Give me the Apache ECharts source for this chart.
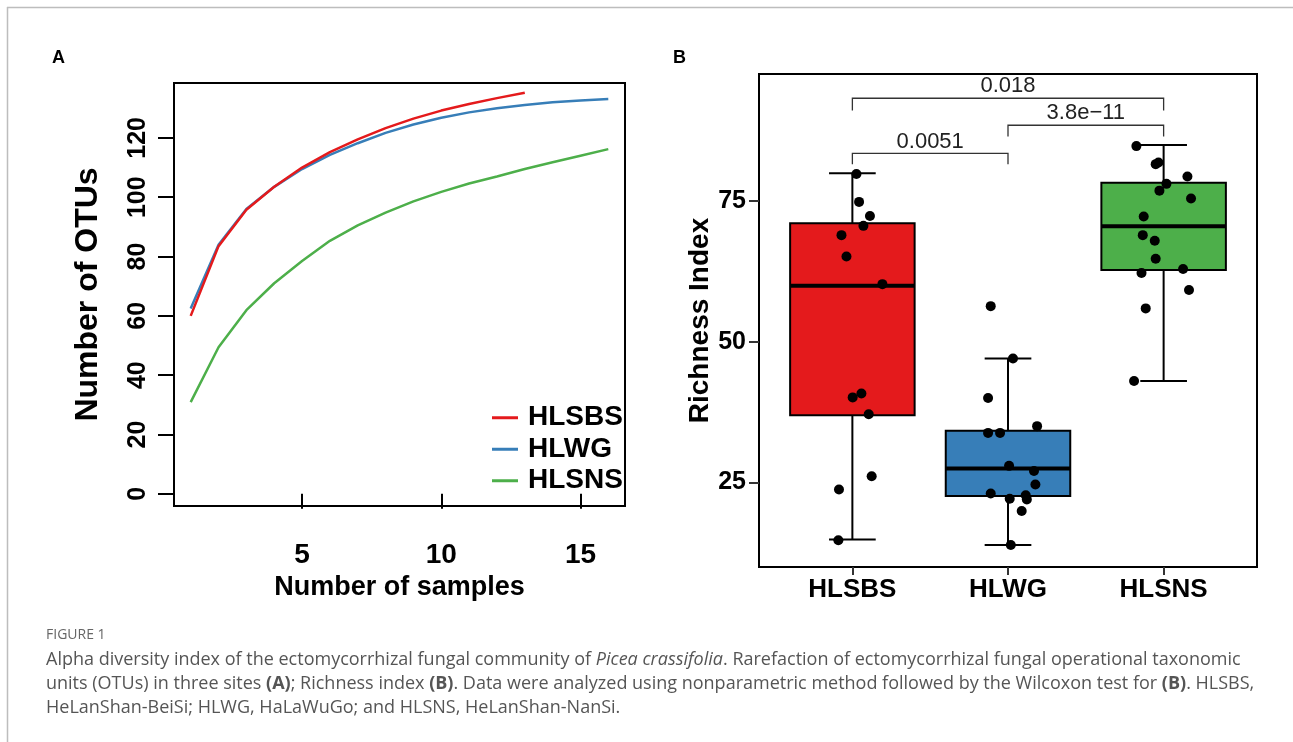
<!DOCTYPE html>
<html>
<head>
<meta charset="utf-8">
<script src="https://cdn.jsdelivr.net/npm/echarts@6/dist/echarts.min.js"></script>
<style>
html,body{margin:0;padding:0;background:#fff;}
#chart{width:1293px;height:742px;}
</style>
</head>
<body>
<div id="chart"></div>
<script>
// ---------- Panel A: rarefaction curves ----------
const siteNames = ['HLSBS', 'HLWG', 'HLSNS'];
const sampleCounts = [1, 2, 3, 4, 5, 6, 7, 8, 9, 10, 11, 12, 13, 14, 15, 16];
const otusHLSBS = [60, 83.5, 95.8, 103.5, 110, 115.2, 119.5, 123.3, 126.5, 129.2, 131.4, 133.4, 135.2];
const otusHLWG  = [62.5, 84, 96, 103.5, 109.5, 114.3, 118.2, 121.7, 124.5, 126.8, 128.6, 130, 131.1, 132, 132.6, 133.1];
const otusHLSNS = [30.9, 49.4, 61.9, 71, 78.5, 85.3, 90.5, 94.8, 98.6, 101.8, 104.6, 107, 109.5, 111.8, 114, 116.2];
const xTicksA = [5, 10, 15];
const yTicksA = [0, 20, 40, 60, 80, 100, 120];

// ---------- Panel B: richness index ----------
const groupPos = [1, 2, 3];
// [lower whisker, Q1, median, Q3, upper whisker]
const boxHLSBS = [14.9, 36.95, 59.9, 71.0, 79.9];
const boxHLWG  = [13.9, 22.6, 27.5, 34.2, 47.0];
const boxHLSNS = [43.0, 62.7, 70.5, 78.2, 84.9];
// jittered points [x, richness]
const ptsHLSBS = [[1.026,79.75],[1.043,74.8],[1.113,72.3],[1.071,70.55],[0.930,68.9],[0.962,65.1],[1.193,60.2],[1.002,40.1],[1.058,40.8],[1.105,37.1],[1.124,26.1],[0.914,23.75],[0.910,14.75]];
const ptsHLWG  = [[1.889,56.3],[2.032,47.0],[1.872,40.0],[1.872,33.8],[1.949,33.8],[2.187,35.0],[2.007,27.95],[2.167,27.05],[2.176,24.65],[1.889,23.05],[2.011,22.1],[2.114,22.75],[2.121,22.0],[2.088,19.95],[2.018,13.9]];
const ptsHLSNS = [[2.825,84.7],[2.949,81.5],[2.967,81.8],[3.153,79.3],[3.018,78.0],[2.973,76.8],[3.176,75.4],[2.872,72.2],[2.866,68.9],[2.943,67.9],[2.949,64.7],[3.125,62.9],[2.858,62.2],[3.163,59.15],[2.885,55.9],[2.810,43.0]];
const yTicksB = [25, 50, 75];
// comparisons: [from group, to group, bracket level, tick end level]
const compFrom = [1, 2, 1];
const compTo   = [2, 3, 3];
const compLevel = [83.4, 88.4, 93.2];
const compTickEnd = [81.5, 86.4, 91.0];
const compLabels = ['0.0051', '3.8e\u221211', '0.018'];

// ---------- styles ----------
const setColors = ['#E41A1C', '#377EB8', '#4DAF4A'];
const SANS = "'Liberation Sans', Arial, sans-serif";
const CAP = "'Open Sans', 'Noto Sans', sans-serif";

const chart = echarts.init(document.getElementById('chart'), null, {renderer: 'canvas'});

const boxData = [boxHLSBS, boxHLWG, boxHLSNS].map((b, i) => [groupPos[i]].concat(b));
const compData = compFrom.map((f, i) => [f, compTo[i], compLevel[i], compTickEnd[i]]);

function renderBox(params, api) {
  const x = api.value(0);
  const lo = api.coord([x, api.value(1)]);
  const q1 = api.coord([x, api.value(2)]);
  const md = api.coord([x, api.value(3)]);
  const q3 = api.coord([x, api.value(4)]);
  const hi = api.coord([x, api.value(5)]);
  const bw = api.size([0.8, 0])[0];
  const cw = api.size([0.3, 0])[0];
  const cx = lo[0];
  const ls = {stroke: '#000', lineWidth: 2};
  return {
    type: 'group',
    children: [
      {type: 'line', shape: {x1: cx, y1: hi[1], x2: cx, y2: lo[1]}, style: ls},
      {type: 'line', shape: {x1: cx - cw / 2, y1: hi[1], x2: cx + cw / 2, y2: hi[1]}, style: ls},
      {type: 'line', shape: {x1: cx - cw / 2, y1: lo[1], x2: cx + cw / 2, y2: lo[1]}, style: ls},
      {type: 'rect', shape: {x: cx - bw / 2, y: q3[1], width: bw, height: q1[1] - q3[1]},
        style: {fill: setColors[params.dataIndex], stroke: '#000', lineWidth: 2}},
      {type: 'line', shape: {x1: cx - bw / 2, y1: md[1], x2: cx + bw / 2, y2: md[1]}, style: {stroke: '#000', lineWidth: 4}}
    ]
  };
}

function renderBracket(params, api) {
  const a = api.coord([api.value(0), api.value(2)]);
  const b = api.coord([api.value(1), api.value(2)]);
  const ta = api.coord([api.value(0), api.value(3)]);
  const tb = api.coord([api.value(1), api.value(3)]);
  return {
    type: 'group',
    children: [
      {type: 'polyline', shape: {points: [[ta[0], ta[1]], [a[0], a[1]], [b[0], b[1]], [tb[0], tb[1]]]},
        style: {stroke: '#333', lineWidth: 1.3, fill: null}},
      {type: 'text', style: {text: compLabels[params.dataIndex], x: (a[0] + b[0]) / 2, y: a[1] - 1,
        align: 'center', verticalAlign: 'bottom', font: "22px 'Liberation Sans', Arial, sans-serif", fill: '#222'}}
    ]
  };
}

const lineSeries = [
  {name: 'HLWG', data: otusHLWG, color: setColors[1], z: 2},
  {name: 'HLSBS', data: otusHLSBS, color: setColors[0], z: 3},
  {name: 'HLSNS', data: otusHLSNS, color: setColors[2], z: 2}
].map(s => ({
  type: 'line', name: s.name, xAxisIndex: 0, yAxisIndex: 0, z: s.z,
  data: s.data.map((v, i) => [sampleCounts[i], v]),
  showSymbol: false, symbol: 'none', smooth: false,
  lineStyle: {color: s.color, width: 2.5}, itemStyle: {color: s.color},
  emphasis: {disabled: true}, animation: false
}));

const scatterSeries = [ptsHLSBS, ptsHLWG, ptsHLSNS].map((pts, i) => ({
  type: 'scatter', name: 'pts' + siteNames[i], xAxisIndex: 1, yAxisIndex: 1, z: 5,
  data: pts, symbol: 'circle', symbolSize: 10, itemStyle: {color: '#000', opacity: 1}, animation: false
}));

const option = {
  animation: false,
  grid: [
    {left: 174, top: 83, width: 451, height: 423, show: true, borderColor: '#000', borderWidth: 2, backgroundColor: 'transparent'},
    {left: 759, top: 74, width: 498, height: 493, show: true, borderColor: '#000', borderWidth: 2, backgroundColor: 'transparent'}
  ],
  xAxis: [
    {type: 'value', gridIndex: 0, min: 0.4, max: 16.6,
      name: 'Number of samples', nameLocation: 'middle', nameGap: 66,
      nameTextStyle: {fontFamily: SANS, fontWeight: 'bold', fontSize: 27, color: '#000'},
      axisLine: {show: false}, splitLine: {show: false},
      axisTick: {show: true, inside: false, length: 15, customValues: xTicksA, lineStyle: {color: '#000', width: 2}},
      axisLabel: {customValues: xTicksA, margin: 35, fontFamily: SANS, fontWeight: 'bold', fontSize: 28, color: '#000'}},
    {type: 'value', gridIndex: 1, min: 0.4, max: 3.6,
      axisLine: {show: false}, splitLine: {show: false},
      axisTick: {show: true, inside: false, length: 8, customValues: groupPos, lineStyle: {color: '#333', width: 2}},
      axisLabel: {customValues: groupPos, margin: 10, formatter: v => siteNames[Math.round(v) - 1],
        fontFamily: SANS, fontWeight: 'bold', fontSize: 26, color: '#000'}}
  ],
  yAxis: [
    {type: 'value', gridIndex: 0, min: -4.1, max: 138.5,
      name: 'Number of OTUs', nameLocation: 'middle', nameGap: 70, nameRotate: 90,
      nameTextStyle: {fontFamily: SANS, fontWeight: 'bold', fontSize: 32, color: '#000'},
      axisLine: {show: false}, splitLine: {show: false},
      axisTick: {show: true, inside: false, length: 16, customValues: yTicksA, lineStyle: {color: '#000', width: 2}},
      axisLabel: {customValues: yTicksA, rotate: 90, margin: 23, fontFamily: SANS, fontWeight: 'bold', fontSize: 25, color: '#000'}},
    {type: 'value', gridIndex: 1, min: 10, max: 97.5,
      name: 'Richness Index', nameLocation: 'middle', nameGap: 44, nameRotate: 90,
      nameTextStyle: {fontFamily: SANS, fontWeight: 'bold', fontSize: 28, color: '#000'},
      axisLine: {show: false}, splitLine: {show: false},
      axisTick: {show: true, inside: false, length: 10, customValues: yTicksB, lineStyle: {color: '#333', width: 2}},
      axisLabel: {customValues: yTicksB, margin: 13, fontFamily: SANS, fontWeight: 'bold', fontSize: 25, color: '#000'}}
  ],
  legend: {
    data: siteNames, orient: 'vertical', left: 487, top: 397, selectedMode: false,
    icon: 'rect', itemWidth: 26, itemHeight: 3, itemGap: 0,
    textStyle: {fontFamily: SANS, fontWeight: 'bold', fontSize: 28, color: '#000', lineHeight: 31.5, padding: [0, 0, 0, 5]}
  },
  series: lineSeries.concat([
    {type: 'custom', name: 'boxes', xAxisIndex: 1, yAxisIndex: 1, z: 3, renderItem: renderBox, data: boxData,
      encode: {x: 0, y: [1, 2, 3, 4, 5]}, animation: false},
    {type: 'custom', name: 'brackets', xAxisIndex: 1, yAxisIndex: 1, z: 6, renderItem: renderBracket, data: compData,
      encode: {x: [0, 1], y: [2, 3]}, animation: false}
  ]).concat(scatterSeries),
  graphic: [
    {type: 'line', shape: {x1: 7, y1: 7.5, x2: 1293, y2: 7.5}, style: {stroke: '#bdbdbd', lineWidth: 1.5}, silent: true},
    {type: 'line', shape: {x1: 7.5, y1: 7, x2: 7.5, y2: 742}, style: {stroke: '#bdbdbd', lineWidth: 1.5}, silent: true},
    {type: 'text', left: 52, top: 49, style: {text: 'A', font: "bold 18px 'Liberation Sans', Arial, sans-serif", fill: '#000'}},
    {type: 'text', left: 673, top: 49, style: {text: 'B', font: "bold 18px 'Liberation Sans', Arial, sans-serif", fill: '#000'}},
    {type: 'text', left: 46, top: 628, style: {text: 'FIGURE 1', font: "14px " + CAP, fill: '#666'}},
    {type: 'text', left: 46, top: 651, style: {
      text: 'Alpha diversity index of the ectomycorrhizal fungal community of {i|Picea crassifolia}. Rarefaction of ectomycorrhizal fungal operational taxonomic',
      font: "18px " + CAP, fill: '#555',
      rich: {i: {fontStyle: 'italic', fontFamily: CAP, fontSize: 18, fill: '#555'}}}},
    {type: 'text', left: 46, top: 675, style: {
      text: 'units (OTUs) in three sites {b|(A)}; Richness index {b|(B)}. Data were analyzed using nonparametric method followed by the Wilcoxon test for {b|(B)}. HLSBS,',
      font: "18px " + CAP, fill: '#555',
      rich: {b: {fontWeight: 'bold', fontFamily: CAP, fontSize: 18, fill: '#555'}}}},
    {type: 'text', left: 46, top: 699, style: {
      text: 'HeLanShan-BeiSi; HLWG, HaLaWuGo; and HLSNS, HeLanShan-NanSi.',
      font: "18px " + CAP, fill: '#555'}}
  ]
};
chart.setOption(option);
</script>
</body>
</html>
